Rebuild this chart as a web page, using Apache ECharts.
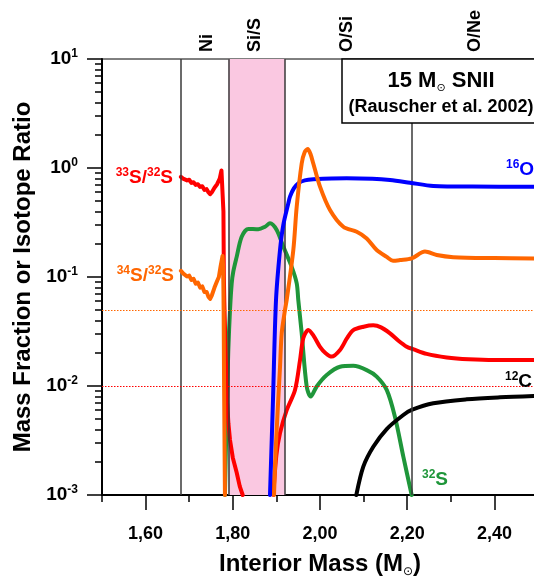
<!DOCTYPE html>
<html>
<head>
<meta charset="utf-8">
<script src="https://cdn.jsdelivr.net/npm/echarts@6/dist/echarts.min.js"></script>
<style>
html,body{margin:0;padding:0;background:#fff;}
#chart{width:534px;height:577px;}
</style>
</head>
<body>
<div id="chart"></div>
<script>
// ---------- DATA ----------
const xTickLabels = [1.6, 1.8, 2.0, 2.2, 2.4];
const xMinorTicks = [1.5, 1.7, 1.9, 2.1, 2.3];
const yMinorTicks = [0.002,0.003,0.004,0.005,0.006,0.007,0.008,0.009,
                     0.02,0.03,0.04,0.05,0.06,0.07,0.08,0.09,
                     0.2,0.3,0.4,0.5,0.6,0.7,0.8,0.9,
                     2,3,4,5,6,7,8,9];
const zoneBoundaries = [1.68, 1.79, 1.92, 2.21];
const siSBand = [1.79, 1.92];
const zoneNames = ['Ni', 'Si/S', 'O/Si', 'O/Ne'];
const zoneCenters = [1.741, 1.851, 2.062, 2.356];
const solar34S32S = 0.0455;
const solar33S32S = 0.0075;

// 33S/32S (red)
const s33Inner = [[1.681,0.83],[1.686,0.80],[1.690,0.81],[1.695,0.77],[1.700,0.78],[1.705,0.73],[1.710,0.74],
  [1.715,0.70],[1.720,0.71],[1.725,0.67],[1.730,0.68],[1.735,0.63],[1.740,0.64],[1.744,0.60],[1.748,0.575],
  [1.752,0.60],[1.758,0.66],[1.764,0.71],[1.770,0.80],[1.774,0.95],[1.776,0.99],[1.7775,0.95],[1.7785,0.4],
  [1.7795,0.1],[1.7805,0.06],[1.7825,0.03],[1.7845,0.015],[1.787,0.007],[1.790,0.0045],[1.7936,0.0032],
  [1.800,0.0022],[1.809,0.0016],[1.816,0.0012],[1.8227,0.001]];
const s33Outer = [[1.8929,0.001],[1.900,0.00233],[1.9083,0.0037],[1.9236,0.006],[1.9427,0.0092],[1.9542,0.0173],
  [1.9618,0.0276],[1.9733,0.0326],[1.9850,0.029],[2.0000,0.0229],[2.0130,0.0200],[2.0268,0.0186],[2.0459,0.0214],
  [2.0620,0.0275],[2.0764,0.0326],[2.1000,0.0350],[2.1222,0.0360],[2.1400,0.0345],[2.1606,0.0304],[2.1800,0.0260],
  [2.199,0.0229],[2.2133,0.0218],[2.2447,0.0197],[2.2906,0.0183],[2.3410,0.0176],[2.40,0.0173],[2.49,0.0173]];
// 34S/32S (orange)
const s34Inner = [[1.681,0.114],[1.686,0.108],[1.690,0.110],[1.695,0.101],[1.700,0.103],[1.705,0.094],[1.710,0.096],
  [1.715,0.087],[1.720,0.089],[1.725,0.080],[1.730,0.082],[1.735,0.073],[1.740,0.073],[1.744,0.066],[1.748,0.063],
  [1.752,0.068],[1.758,0.080],[1.764,0.092],[1.768,0.100],[1.772,0.125],[1.7765,0.156],[1.778,0.12],[1.779,0.05],
  [1.780,0.01],[1.781,0.003],[1.782,0.001]];
const s34Outer = [[1.8945,0.001],[1.8991,0.0030],[1.9083,0.0150],[1.9122,0.0306],[1.9197,0.0498],[1.9236,0.0615],
  [1.9388,0.177],[1.9466,0.442],[1.9580,1.10],[1.9650,1.40],[1.9718,1.49],[1.9780,1.35],[1.9846,1.10],[2.0000,0.674],
  [2.0229,0.412],[2.0534,0.289],[2.0842,0.260],[2.1071,0.226],[2.1300,0.177],[2.1530,0.153],[2.1674,0.141],
  [2.1835,0.143],[2.2103,0.148],[2.2408,0.171],[2.2677,0.159],[2.3057,0.152],[2.40,0.149],[2.49,0.148]];
// 16O (blue)
const o16 = [[1.8853,0.001],[1.8922,0.0075],[1.8991,0.0615],[1.9083,0.177],[1.9158,0.300],[1.9273,0.474],
  [1.9312,0.546],[1.9400,0.650],[1.9502,0.724],[1.9650,0.770],[1.9846,0.788],[2.0612,0.805],[2.1200,0.797],
  [2.1606,0.776],[2.2064,0.733],[2.2599,0.684],[2.3500,0.675],[2.49,0.674]];
// 32S (green)
const s32 = [[1.782,0.001],[1.7867,0.0075],[1.7897,0.0214],[1.7936,0.0498],[1.7975,0.0875],[1.8011,0.112],
  [1.8089,0.153],[1.8204,0.234],[1.8356,0.276],[1.8585,0.274],[1.8739,0.289],[1.8853,0.311],[1.9007,0.270],
  [1.9158,0.190],[1.9351,0.124],[1.9466,0.0875],[1.9502,0.0615],[1.9580,0.0306],[1.9695,0.0099],[1.9787,0.0080],
  [1.9924,0.0099],[2.0154,0.0126],[2.0459,0.0150],[2.0764,0.0153],[2.1071,0.0140],[2.1300,0.0122],[2.1530,0.0092],
  [2.1720,0.0052],[2.1911,0.00225],[2.2103,0.001]];
// 12C (black)
const c12 = [[2.0833,0.001],[2.0993,0.00182],[2.1222,0.00277],[2.1530,0.00403],[2.1911,0.00542],[2.2103,0.00603],
  [2.2599,0.00694],[2.3365,0.00755],[2.4128,0.00788],[2.49,0.0081]];

// ---------- CHART ----------
const chart = echarts.init(document.getElementById('chart'), null, {renderer: 'canvas'});
const FONT = 'Liberation Sans, Arial, sans-serif';
const RED = '#ff0000', ORANGE = '#ff6600', BLUE = '#0000ff', GREEN = '#1f963a', BLACK = '#000000';

function curve(name, data, color, z, smooth) {
  return {name, type: 'line', data, xAxisIndex: 0, yAxisIndex: 0, showSymbol: false, symbol: 'none',
    smooth: smooth, z, lineStyle: {color, width: 4, cap: 'round', join: 'round'},
    silent: true, animation: false};
}
function hline(value, color) {
  return {type: 'line', data: [], xAxisIndex: 0, yAxisIndex: 0, z: 2, silent: true, symbol: 'none',
    color: color,
    markLine: {silent: true, symbol: 'none', label: {show: false}, animation: false,
      lineStyle: {color: color, width: 1, type: [1.5, 1.5], opacity: 1},
      emphasis: {disabled: true},
      data: [{yAxis: value}]}};
}

const option = {
  animation: false,
  backgroundColor: '#fff',
  grid: {left: 102, top: 59, right: -4, bottom: 82, show: true, borderColor: '#000', borderWidth: 1,
    backgroundColor: 'transparent', containLabel: false, outerBoundsMode: 'none'},
  xAxis: [{
    type: 'value', min: 1.5, max: 2.5, position: 'bottom',
    axisLine: {show: true, onZero: false, lineStyle: {color: '#000', width: 2}},
    axisTick: {show: true, inside: false, length: 15, customValues: xTickLabels, lineStyle: {color: '#000', width: 1.5}},
    axisLabel: {customValues: xTickLabels, margin: 30, fontFamily: FONT, fontWeight: 'bold', fontSize: 18, color: '#000',
      formatter: v => v.toFixed(2).replace('.', ',')},
    splitLine: {show: false},
    name: '{t|Interior Mass (M}{s|⊙}{t|)}', nameLocation: 'middle', nameGap: 55,
    nameTextStyle: {rich: {t: {fontFamily: FONT, fontWeight: 'bold', fontSize: 24, color: '#000', lineHeight: 28},
      s: {fontFamily: 'DejaVu Sans', fontSize: 12, color: '#000', verticalAlign: 'bottom', lineHeight: 12}}}
  }, {
    type: 'value', min: 1.5, max: 2.5, position: 'bottom',
    axisLine: {show: false, onZero: false},
    axisTick: {show: true, inside: false, length: 7, customValues: xMinorTicks, lineStyle: {color: '#000', width: 1.5}},
    axisLabel: {show: false}, splitLine: {show: false}
  }],
  yAxis: [{
    type: 'log', logBase: 10, min: 0.001, max: 10, position: 'left',
    axisLine: {show: true, onZero: false, lineStyle: {color: '#000', width: 2}},
    axisTick: {show: true, inside: false, length: 15, lineStyle: {color: '#000', width: 1.5}},
    axisLabel: {margin: 24, formatter: v => '{b|10}{s|' + Math.round(Math.log10(v)) + '}',
      rich: {b: {fontFamily: FONT, fontWeight: 'bold', fontSize: 19, color: '#000', lineHeight: 22},
             s: {fontFamily: FONT, fontWeight: 'bold', fontSize: 12, color: '#000', verticalAlign: 'top', lineHeight: 12}}},
    splitLine: {show: false}, minorTick: {show: false},
    name: 'Mass Fraction or Isotope Ratio', nameLocation: 'middle', nameGap: 66, nameRotate: 90,
    nameTextStyle: {fontFamily: FONT, fontWeight: 'bold', fontSize: 24, color: '#000'}
  }, {
    type: 'log', logBase: 10, min: 0.001, max: 10, position: 'left',
    axisLine: {show: false, onZero: false},
    axisTick: {show: true, inside: false, length: 7, customValues: yMinorTicks, lineStyle: {color: '#000', width: 1.5}},
    axisLabel: {show: false}, splitLine: {show: false}
  }],
  series: [
    {type: 'line', data: [], xAxisIndex: 0, yAxisIndex: 0, z: 1, silent: true, symbol: 'none', color: '#3a3a3a',
      markArea: {silent: true, itemStyle: {color: '#fac8e1'}, data: [[{xAxis: siSBand[0]}, {xAxis: siSBand[1]}]]},
      markLine: {silent: true, symbol: 'none', label: {show: false}, animation: false,
        lineStyle: {color: '#3a3a3a', width: 1.5, type: 'solid'},
        data: zoneBoundaries.map(v => ({xAxis: v}))}
    },
    hline(solar34S32S, ORANGE),
    hline(solar33S32S, RED),
    curve('32S', s32, GREEN, 3, 0.3),
    curve('12C', c12, BLACK, 3, 0.3),
    curve('33S/32S', s33Inner, RED, 4, false),
    curve('33S/32S b', s33Outer, RED, 4, 0.3),
    curve('16O', o16, BLUE, 5, 0.3),
    curve('34S/32S', s34Inner, ORANGE, 6, false),
    curve('34S/32S b', s34Outer, ORANGE, 6, 0.3)
  ]
};
chart.setOption(option);

// ---------- annotations ----------
function lbl(x, y, text, color, align) {
  return {type: 'text', x, y, z: 100, style: {text, align, verticalAlign: 'middle', fill: color,
    rich: {m: {fontFamily: FONT, fontWeight: 'bold', fontSize: 19, fill: color, lineHeight: 22},
           u: {fontFamily: FONT, fontWeight: 'bold', fontSize: 12, fill: color, verticalAlign: 'top', lineHeight: 12}}}};
}
const graphics = [];
zoneNames.forEach((n, i) => {
  const px = chart.convertToPixel({xAxisIndex: 0}, zoneCenters[i]);
  graphics.push({type: 'text', x: px, y: 52, rotation: Math.PI / 2, z: 100,
    style: {text: n, align: 'left', verticalAlign: 'middle', fill: '#000', font: 'bold 18px ' + FONT}});
});
graphics.push({type: 'rect', shape: {x: 342, y: 59, width: 210, height: 64}, z: 90,
  style: {fill: '#fff', stroke: '#000', lineWidth: 1.5}});
graphics.push({type: 'text', x: 441, y: 81, z: 100, style: {text: '{t|15 M}{s|⊙}{t| SNII}', align: 'center', verticalAlign: 'middle',
  rich: {t: {fontFamily: FONT, fontWeight: 'bold', fontSize: 22, fill: '#000', lineHeight: 26},
         s: {fontFamily: 'DejaVu Sans', fontSize: 11, fill: '#000', verticalAlign: 'bottom', lineHeight: 11}}}});
graphics.push({type: 'text', x: 441, y: 107, z: 100, style: {text: '(Rauscher et al. 2002)', align: 'center', verticalAlign: 'middle',
  fill: '#000', font: 'bold 18px ' + FONT}});
graphics.push(lbl(173, 178, '{u|33}{m|S/}{u|32}{m|S}', RED, 'right'));
graphics.push(lbl(174, 276, '{u|34}{m|S/}{u|32}{m|S}', ORANGE, 'right'));
graphics.push(lbl(506, 170, '{u|16}{m|O}', BLUE, 'left'));
graphics.push(lbl(505, 382, '{u|12}{m|C}', BLACK, 'left'));
graphics.push(lbl(422, 480, '{u|32}{m|S}', GREEN, 'left'));
chart.setOption({graphic: graphics});
</script>
</body>
</html>
